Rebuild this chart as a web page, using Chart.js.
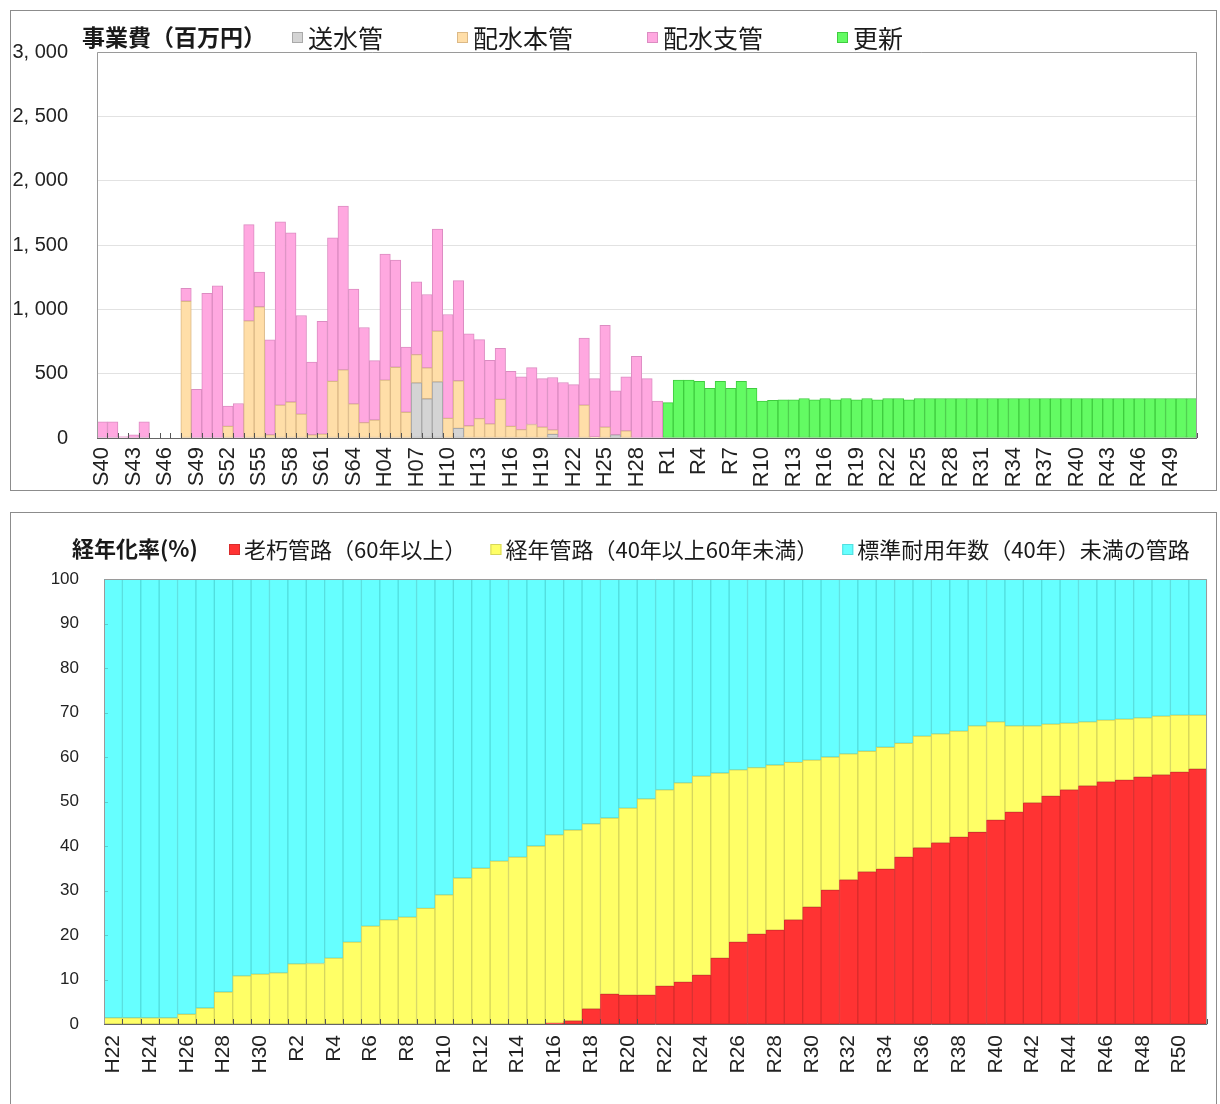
<!DOCTYPE html>
<html lang="ja">
<head>
<meta charset="utf-8">
<title>事業費と経年化率</title>
<script src="https://cdn.jsdelivr.net/npm/chart.js@4.4.1/dist/chart.umd.min.js"></script>
<style>
  html, body { margin: 0; padding: 0; background: #fff; }
  body { width: 1220px; height: 1104px; position: relative; overflow: hidden; }
  .panel { position: absolute; left: 10px; width: 1207px; border: 1px solid #8c8c8c; box-sizing: border-box; background: #fff; }
  #panelCost { top: 10px; height: 481px; }
  #panelAge { top: 512px; height: 600px; }
  .panel canvas { position: absolute; left: 0; top: 0; }
</style>
</head>
<body>
<div class="panel" id="panelCost"><canvas id="costChart" width="1205" height="479"></canvas></div>
<div class="panel" id="panelAge"><canvas id="ageChart" width="1205" height="591"></canvas></div>
<script>
// ---- 事業費（百万円）: fiscal years S40 … R51 ----
const costYears = [
  'S40','S41','S42','S43','S44','S45','S46','S47','S48','S49',
  'S50','S51','S52','S53','S54','S55','S56','S57','S58','S59',
  'S60','S61','S62','S63','S64','H02','H03','H04','H05','H06',
  'H07','H08','H09','H10','H11','H12','H13','H14','H15','H16',
  'H17','H18','H19','H20','H21','H22','H23','H24','H25','H26',
  'H27','H28','H29','H30',
  'R1','R2','R3','R4','R5','R6','R7','R8','R9','R10',
  'R11','R12','R13','R14','R15','R16','R17','R18','R19','R20',
  'R21','R22','R23','R24','R25','R26','R27','R28','R29','R30',
  'R31','R32','R33','R34','R35','R36','R37','R38','R39','R40',
  'R41','R42','R43','R44','R45','R46','R47','R48','R49','R50',
  'R51'
];

// past investment S40 … H30 (54 years)
const transmissionPipe = [
  0, 0, 0, 0, 0, 0, 0, 0, 0, 0,
  0, 0, 0, 0, 0, 0, 0, 0, 0, 0,
  0, 0, 0, 0, 0, 0, 0, 0, 0, 0,
  428, 305, 436, 0, 75, 0, 0, 0, 0, 0,
  0, 0, 0, 28, 0, 0, 0, 0, 0, 25,
  0, 0, 0, 0
];
const distributionMain = [
  0, 0, 0, 0, 0, 0, 0, 0, 1063, 0,
  0, 0, 90, 0, 910, 1020, 25, 255, 280, 185,
  25, 30, 440, 530, 265, 120, 140, 450, 550, 200,
  220, 240, 395, 152, 370, 95, 150, 110, 300, 90,
  65, 105, 85, 35, 0, 0, 255, 8, 85, 0,
  55, 0, 0, 0
];
const distributionBranch = [
  125, 125, 12, 25, 125, 0, 0, 0, 100, 378,
  1125, 1182, 158, 268, 748, 270, 738, 1425, 1315, 767,
  566, 876, 1116, 1273, 893, 739, 461, 979, 833, 507,
  565, 570, 792, 808, 778, 715, 614, 494, 397, 429,
  410, 442, 377, 407, 431, 415, 521, 454, 790, 341,
  420, 635, 462, 286
];
// planned renewal R1 … R51 (51 years)
const renewal = [
  275, 450, 450, 441, 387, 441, 387, 441, 387, 286,
  292, 297, 297, 307, 297, 307, 297, 307, 297, 307,
  297, 307, 307, 297, 307, 307, 307, 307, 307, 307,
  307, 307, 307, 307, 307, 307, 307, 307, 307, 307,
  307, 307, 307, 307, 307, 307, 307, 307, 307, 307,
  307
];
const costSeriesNames = ['送水管', '配水本管', '配水支管', '更新'];

// ---- 経年化率（%）: H22 … R51 ----
const ageYears = [
  'H22','H23','H24','H25','H26','H27','H28','H29','H30',
  'R1','R2','R3','R4','R5','R6','R7','R8','R9','R10',
  'R11','R12','R13','R14','R15','R16','R17','R18','R19','R20',
  'R21','R22','R23','R24','R25','R26','R27','R28','R29','R30',
  'R31','R32','R33','R34','R35','R36','R37','R38','R39','R40',
  'R41','R42','R43','R44','R45','R46','R47','R48','R49','R50',
  'R51'
];
const agedOver60 = [
  0, 0, 0, 0, 0, 0, 0, 0, 0,
  0, 0, 0, 0, 0, 0, 0, 0, 0, 0,
  0, 0, 0, 0, 0, 0.2, 0.7, 3.4, 6.7, 6.5,
  6.5, 8.5, 9.4, 11.0, 14.8, 18.4, 20.2, 21.1, 23.4, 26.3,
  30.1, 32.4, 34.2, 34.8, 37.5, 39.6, 40.7, 42.0, 43.1, 45.8,
  47.6, 49.7, 51.2, 52.6, 53.5, 54.4, 54.8, 55.5, 56.0, 56.6,
  57.3
];
const aged40to60 = [
  1.4, 1.4, 1.4, 1.4, 2.2, 3.6, 7.2, 10.8, 11.2,
  11.5, 13.5, 13.6, 14.8, 18.4, 22.0, 23.4, 24.0, 26.0, 29.0,
  32.8, 35.0, 36.6, 37.5, 40.0, 42.3, 42.9, 41.6, 39.6, 42.0,
  44.1, 44.1, 44.8, 44.7, 41.6, 38.7, 37.4, 37.1, 35.4, 33.0,
  29.9, 28.3, 27.1, 27.4, 25.6, 25.1, 24.5, 23.8, 23.9, 22.1,
  19.4, 17.3, 16.2, 15.0, 14.4, 13.9, 13.7, 13.3, 13.2, 12.8,
  12.1
];
const under40 = [
  98.6, 98.6, 98.6, 98.6, 97.8, 96.4, 92.8, 89.2, 88.8,
  88.5, 86.5, 86.4, 85.2, 81.6, 78.0, 76.6, 76.0, 74.0, 71.0,
  67.2, 65.0, 63.4, 62.5, 60.0, 57.5, 56.4, 55.0, 53.7, 51.5,
  49.4, 47.4, 45.8, 44.3, 43.6, 42.9, 42.4, 41.8, 41.2, 40.7,
  40.0, 39.3, 38.7, 37.8, 36.9, 35.3, 34.8, 34.2, 33.0, 32.1,
  33.0, 33.0, 32.6, 32.4, 32.1, 31.7, 31.5, 31.2, 30.8, 30.6,
  30.6
];
const ageSeriesNames = ['老朽管路（60年以上）', '経年管路（40年以上60年未満）', '標準耐用年数（40年）未満の管路'];

// ---- helpers ----
const JP = '"Noto Sans CJK JP", "Noto Sans", sans-serif';
const NUM = '"Liberation Sans", Arial, sans-serif';
const NARROW = '"Liberation Sans Narrow", "Liberation Sans", Arial, sans-serif';
const blankToNull = arr => arr.map(v => (v === 0 ? null : v));
const pastCount = transmissionPipe.length;
const padPast = arr => blankToNull(arr).concat(new Array(costYears.length - pastCount).fill(null));
const padFuture = arr => new Array(pastCount).fill(null).concat(blankToNull(arr));
const withComma = v => v >= 1000 ? Math.floor(v / 1000) + ', ' + String(v % 1000).padStart(3, '0') : String(v);

// Title and legend row drawn above the plot area
const headerPlugin = {
  id: 'header',
  afterDraw(chart, args, o) {
    const ctx = chart.ctx;
    ctx.save();
    ctx.textBaseline = 'middle';
    ctx.textAlign = 'left';
    ctx.fillStyle = '#1a1a1a';
    ctx.font = o.titleFont;
    ctx.fillText(o.title, o.titleX, o.y);
    ctx.font = o.itemFont;
    let x = o.legendX;
    chart.data.datasets.forEach(ds => {
      ctx.fillStyle = ds.backgroundColor;
      ctx.fillRect(x, o.y - 5, 11, 11);
      ctx.strokeStyle = ds.borderColor;
      ctx.lineWidth = 1;
      ctx.strokeRect(x + 0.5, o.y - 4.5, 10, 10);
      ctx.fillStyle = '#1a1a1a';
      ctx.fillText(ds.label, x + o.textGap, o.y + 1);
      x += o.textGap + ctx.measureText(ds.label).width + o.gap;
    });
    ctx.restore();
  }
};

// Plot frame and the short inner tick marks on the category axis
const framePlugin = {
  id: 'frame',
  afterDatasetsDraw(chart, args, o) {
    const { ctx, chartArea: a, scales: { x, y } } = chart;
    ctx.save();
    ctx.lineWidth = 1;
    ctx.strokeStyle = o.tickColor;
    ctx.beginPath();
    const n = x.ticks.length;
    for (let i = 0; i <= n; i++) {
      let px;
      if (i === 0) px = a.left;
      else if (i === n) px = a.right;
      else px = (x.getPixelForValue(i - 1) + x.getPixelForValue(i)) / 2;
      px = Math.round(px) + 0.5;
      ctx.moveTo(px, a.bottom);
      ctx.lineTo(px, a.bottom - o.tickLen);
    }
    ctx.stroke();
    if (o.yTickColor) {
      ctx.strokeStyle = o.yTickColor;
      ctx.beginPath();
      y.ticks.forEach(t => {
        const py = Math.round(y.getPixelForValue(t.value)) + 0.5;
        ctx.moveTo(a.left, py);
        ctx.lineTo(a.left + 4, py);
      });
      ctx.stroke();
    }
    ctx.strokeStyle = o.frameColor;
    ctx.beginPath();
    ctx.moveTo(Math.round(a.left) + 0.5, Math.round(a.bottom) + 0.5);
    ctx.lineTo(Math.round(a.left) + 0.5, Math.round(a.top) + 0.5);
    ctx.lineTo(Math.round(a.right) - 0.5, Math.round(a.top) + 0.5);
    ctx.lineTo(Math.round(a.right) - 0.5, Math.round(a.bottom) + 0.5);
    ctx.stroke();
    ctx.strokeStyle = o.axisColor;
    ctx.beginPath();
    ctx.moveTo(a.left, Math.round(a.bottom) + 0.5);
    ctx.lineTo(a.right, Math.round(a.bottom) + 0.5);
    ctx.stroke();
    ctx.restore();
  }
};

Chart.defaults.color = '#222';
Chart.defaults.animation = false;
Chart.defaults.events = [];

// ---- chart 1: 事業費 ----
new Chart(document.getElementById('costChart'), {
  type: 'bar',
  data: {
    labels: costYears,
    datasets: [
      { label: costSeriesNames[0], data: padPast(transmissionPipe), backgroundColor: '#d4d4d4', borderColor: '#a9a9a9' },
      { label: costSeriesNames[1], data: padPast(distributionMain), backgroundColor: '#ffdea8', borderColor: '#dcb986' },
      { label: costSeriesNames[2], data: padPast(distributionBranch), backgroundColor: '#ffa8e0', borderColor: '#dc8cc2' },
      { label: costSeriesNames[3], data: padFuture(renewal), backgroundColor: '#63fb63', borderColor: '#3fcc3f' }
    ]
  },
  options: {
    responsive: false,
    layout: { padding: { top: 39, right: 19, left: 0, bottom: 0 } },
    datasets: { bar: { categoryPercentage: 1, barPercentage: 1, borderWidth: 1, borderSkipped: false } },
    plugins: {
      legend: { display: false },
      tooltip: { enabled: false },
      header: { title: '事業費（百万円）', titleX: 71, y: 26, legendX: 281, gap: 74, textGap: 16,
                titleFont: 'bold 23px ' + JP, itemFont: '25px ' + JP },
      frame: { tickColor: '#555', tickLen: 5, frameColor: '#9a9a9a', axisColor: '#666' }
    },
    scales: {
      x: {
        stacked: true,
        grid: { display: false, drawTicks: false },
        border: { display: false },
        ticks: {
          autoSkip: false, minRotation: 90, maxRotation: 90, padding: 9,
          font: { family: NARROW, size: 22 }, color: '#222',
          callback: (v, i) => (i % 3 === 0 ? costYears[i] : null)
        },
        afterFit: s => { s.height = 52; }
      },
      y: {
        stacked: true, min: 0, max: 3000,
        grid: { color: '#e2e2e2', drawTicks: false },
        border: { display: false },
        ticks: { stepSize: 500, padding: 29, font: { family: NUM, size: 20 }, color: '#222', callback: v => withComma(v) },
        afterFit: s => { s.width = 86; }
      }
    }
  },
  plugins: [headerPlugin, framePlugin]
});

// ---- chart 2: 経年化率 ----
new Chart(document.getElementById('ageChart'), {
  type: 'bar',
  data: {
    labels: ageYears,
    datasets: [
      { label: ageSeriesNames[0], data: blankToNull(agedOver60), backgroundColor: '#ff3333', borderColor: '#d82c2c' },
      { label: ageSeriesNames[1], data: aged40to60, backgroundColor: '#ffff66', borderColor: '#d6d65a' },
      { label: ageSeriesNames[2], data: under40, backgroundColor: '#66ffff', borderColor: '#52dede' }
    ]
  },
  options: {
    responsive: false,
    layout: { padding: { top: 66, right: 8, left: 0, bottom: 0 } },
    datasets: { bar: { categoryPercentage: 1, barPercentage: 1, borderWidth: 1, borderSkipped: false } },
    plugins: {
      legend: { display: false },
      tooltip: { enabled: false },
      header: { title: '経年化率(%)', titleX: 61, y: 36, legendX: 218, gap: 24, textGap: 15,
                titleFont: 'bold 22px ' + JP, itemFont: '22px ' + JP },
      frame: { tickColor: '#555', tickLen: 5, frameColor: '#9a9a9a', axisColor: '#666', yTickColor: 'rgba(0,0,0,0.18)' }
    },
    scales: {
      x: {
        stacked: true,
        grid: { display: false, drawTicks: false },
        border: { display: false },
        ticks: {
          autoSkip: false, minRotation: 90, maxRotation: 90, padding: 11,
          font: { family: NARROW, size: 21 }, color: '#222',
          callback: (v, i) => (i % 2 === 0 ? ageYears[i] : null)
        },
        afterFit: s => { s.height = 80; }
      },
      y: {
        stacked: true, min: 0, max: 100,
        grid: { display: false, drawTicks: false },
        border: { display: false },
        ticks: { stepSize: 10, padding: 25, font: { family: NUM, size: 17 }, color: '#222' },
        afterFit: s => { s.width = 93; }
      }
    }
  },
  plugins: [headerPlugin, framePlugin]
});
</script>
</body>
</html>
